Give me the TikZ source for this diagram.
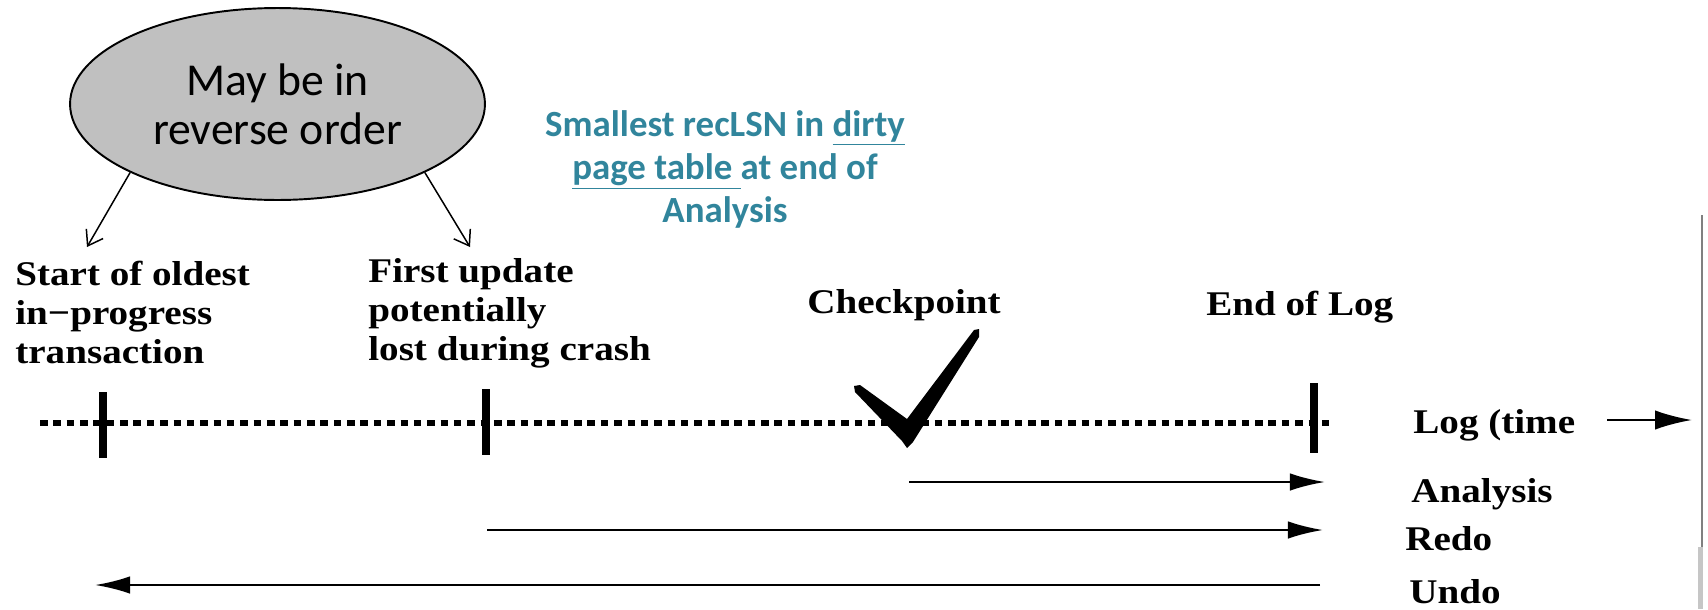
\documentclass[tikz,border=0pt]{standalone}
\usepackage{fontspec}
\newfontfamily\slidefont{Carlito}
\newfontfamily\figfont[FakeStretch=1.13]{Liberation Serif}
\usetikzlibrary{shapes.geometric,arrows.meta}
\definecolor{tealblue}{RGB}{49,133,156}
\definecolor{bubblegray}{RGB}{192,192,192}
\tikzset{
  lbl/.style={inner sep=0pt, font=\figfont\bfseries\fontsize{19.7}{22}\selectfont},
  logline/.style={line width=3.4pt, dash pattern=on 4.3pt off 3.3pt},
  tickmark/.style={line width=4pt},
  phase/.style={line width=1.4pt, -{Latex[length=20pt,width=10pt]}},
  pointer/.style={line width=0.85pt, -{Straight Barb[length=8pt,width=11pt]}},
}
\begin{document}
\begin{tikzpicture}[x=0.02cm,y=-0.02cm]
	\useasboundingbox (0,0) rectangle (1708,609);
	
	\node[ellipse, draw, line width=1.1pt, fill=bubblegray, minimum width=8.3cm, minimum height=3.84cm, inner sep=0pt, align=center, font=\slidefont\fontsize{26}{28}\selectfont] (ell) at (277.5,104) {May be in\\reverse order};
	\node[align=center, anchor=north, inner sep=0pt, text=tealblue, font=\slidefont\bfseries\fontsize{21}{24.5}\selectfont] (recLSN) at (725,110) {Smallest recLSN in \underline{dirty}\\\underline{page table }at end of\\Analysis};
	
	\node[lbl, align=left, anchor=north west] (oldest) at (15,261) {Start of oldest\\in−progress\\transaction};
	\node[lbl, align=left, anchor=north west] (firstupd) at (368,258.5) {First update\\potentially\\lost during crash};
	\node[lbl, anchor=base west] (chkpt) at (807,313) {Checkpoint};
	\node[lbl, anchor=base west] (endlog) at (1206,315) {End of Log};
	\node[lbl, anchor=base west] (logtime) at (1413,433) {Log (time};
	\node[lbl, anchor=base west] (analysis) at (1411,502) {Analysis};
	\node[lbl, anchor=base west] (redo) at (1405,550) {Redo};
	\node[lbl, anchor=base west] (undo) at (1409,603) {Undo};
	
	\coordinate (tipA) at (87,247);
	\coordinate (tipB) at (470,247);
	\draw[pointer] (ell.south west) -- (tipA);
	\draw[pointer] (ell.south east) -- (tipB);
	
	% the log
	\draw[logline] (40,423) -- (1332,423);
	\draw[tickmark] (103,392) -- (103,458);
	\draw[tickmark] (486,389) -- (486,455);
	\draw[tickmark] (1314,383) -- (1314,453);
	\fill (854,386) -- (860,385) -- (907,419) -- (974,330) -- (979,329) -- (979,337)
		-- (913,442) -- (907,448) -- (902,441) -- (855,392) -- cycle;
	
	\coordinate (lt0) at (1607,420);
	\coordinate (lt1) at (1692,420);
	\draw[line width=1.4pt, -{Latex[length=21pt,width=11pt]}] (lt0) -- (lt1);
	
	% the three passes
	\coordinate (a0) at (909,482);
	\coordinate (a1) at (1325,482);
	\coordinate (r0) at (487,530);
	\coordinate (r1) at (1323,530);
	\coordinate (u0) at (1320,585);
	\coordinate (u1) at (95,585);
	\draw[phase] (a0) -- (a1);
	\draw[phase] (r0) -- (r1);
	\draw[phase] (u0) -- (u1);
	
	\draw[gray, line width=0.6pt] (1702,215) -- (1702,609);
	\fill[gray!45] (1698,547) rectangle (1703,609);
\end{tikzpicture}
\end{document}
